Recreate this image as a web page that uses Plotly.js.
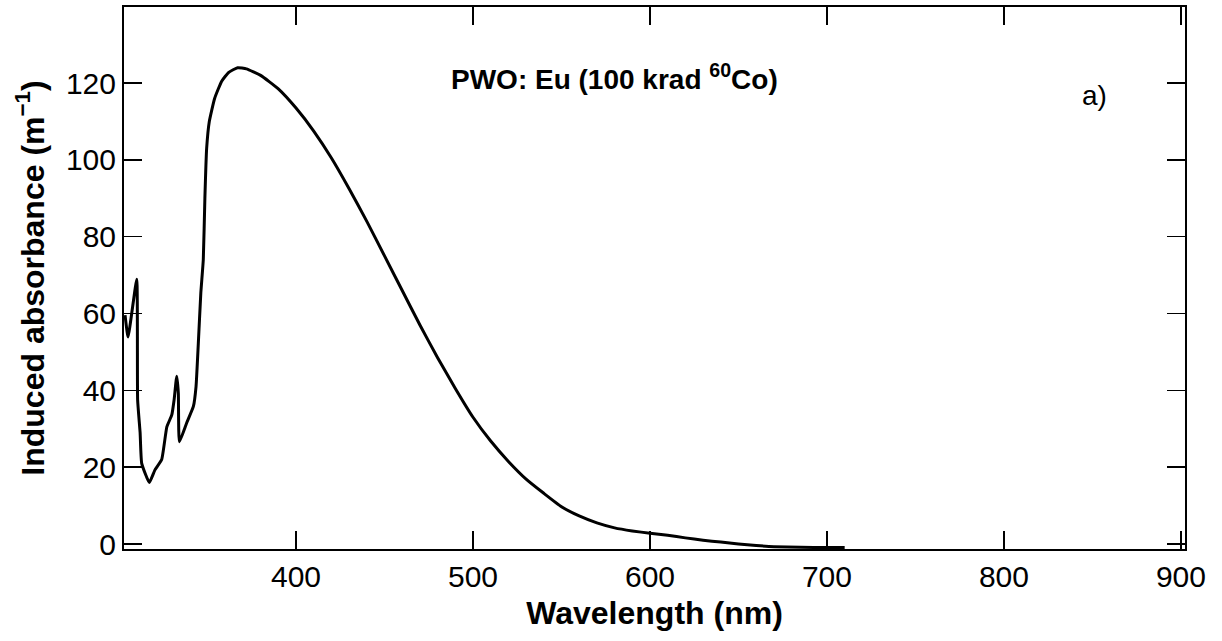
<!DOCTYPE html>
<html>
<head>
<meta charset="utf-8">
<script src="https://cdn.plot.ly/plotly-3.0.1.min.js"></script>
<style>html,body{margin:0;padding:0;background:#fff;}</style>
</head>
<body>
<div id="chart" style="width:1222px;height:641px;"></div>
<script>
// Wavelength (nm)
const wavelength = [303.4, 305.1, 310.0, 310.5, 311.9, 312.8, 317.1, 320.3, 324.1, 327.0, 329.8, 331.1, 332.6, 333.5, 334.1, 338.2, 342.0, 343.5, 344.8, 346.2, 347.6, 348.5, 349.5, 351, 354, 358, 362, 367, 372, 380, 390, 400, 410, 420, 430, 440, 450, 460, 470, 480, 490, 500, 510, 520, 530, 540, 550, 560, 570, 580, 590, 600, 610, 620, 630, 640, 650, 660, 670, 685, 700, 710];
// Induced absorbance (m^-1)
const absorbance = [59.6, 53.9, 68.9, 37.5, 29, 21, 16.0, 19.3, 22, 30.5, 33.6, 37.5, 43.7, 39.3, 26.6, 31.5, 35.8, 41, 52.3, 65.3, 74, 90, 103, 110, 116, 120.5, 122.8, 124, 123.7, 122, 118.5, 113.5, 107.5, 100.5, 92.5, 84, 75, 66, 57, 48.5, 40.5, 33, 26.8, 21.5, 16.9, 13.2, 9.7, 7.3, 5.5, 4.2, 3.4, 2.8, 2.3, 1.6, 1.0, 0.5, 0.0, -0.4, -0.7, -0.85, -0.9, -0.9];
const xTicks = [400, 500, 600, 700, 800, 900];
const yTicks = [0, 20, 40, 60, 80, 100, 120];
const titleText = "PWO: Eu (100 krad <sup>60</sup>Co)";
const panelLabel = "a)";

const FONT = "Liberation Sans, Arial, Helvetica, sans-serif";

const trace = {
  x: wavelength,
  y: absorbance,
  type: "scatter",
  mode: "lines",
  line: {color: "#000", width: 3, shape: "spline", smoothing: 0.4},
  hoverinfo: "skip"
};

const axisCommon = {
  showline: true, linecolor: "#000", linewidth: 2,
  mirror: "ticks", ticks: "inside", ticklen: 18, tickwidth: 1.5, tickcolor: "#000",
  showgrid: false, zeroline: false,
  tickfont: {family: FONT, size: 30, color: "#000"}
};

const layout = {
  width: 1222, height: 641,
  margin: {l: 124, r: 37, t: 7, b: 92},
  paper_bgcolor: "#fff", plot_bgcolor: "#fff",
  showlegend: false,
  xaxis: Object.assign({}, axisCommon, {
    range: [302.8, 902.3],
    tickvals: xTicks, ticktext: xTicks.map(String),
    title: {text: "<b>Wavelength (nm)</b>", font: {family: FONT, size: 32, color: "#000"}, standoff: 10}
  }),
  yaxis: Object.assign({}, axisCommon, {
    range: [-1.3, 139.8],
    tickvals: yTicks, ticktext: yTicks.map(String),
    title: {text: "<b>Induced absorbance (m<sup>−1</sup>)</b>", font: {family: FONT, size: 32, color: "#000"}, standoff: 12}
  }),
  annotations: [
    {text: "<b>" + titleText + "</b>", xref: "paper", yref: "paper", x: 0.4623, y: 0.871,
     xanchor: "center", yanchor: "middle", showarrow: false,
     font: {family: FONT, size: 28, color: "#000"}},
    {text: panelLabel, xref: "paper", yref: "paper", x: 0.915, y: 0.8376,
     xanchor: "center", yanchor: "middle", showarrow: false,
     font: {family: FONT, size: 28, color: "#000"}}
  ]
};

Plotly.newPlot("chart", [trace], layout, {staticPlot: true, displayModeBar: false});
</script>
</body>
</html>
